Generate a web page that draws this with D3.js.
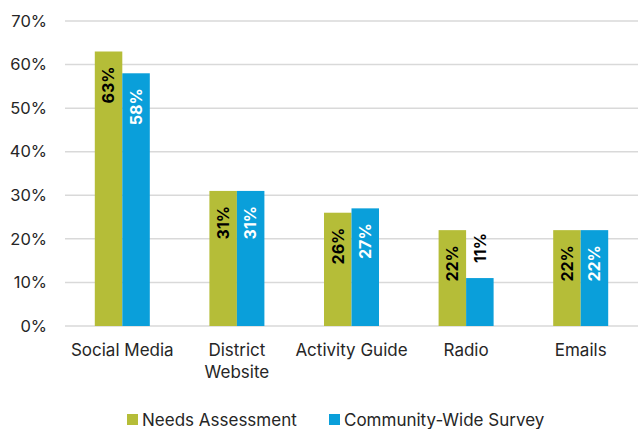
<!DOCTYPE html>
<html>
<head>
<meta charset="utf-8">
<script src="https://cdn.jsdelivr.net/npm/d3@7"></script>
<style>
  html, body { margin: 0; padding: 0; background: #fff; }
  svg { display: block; font-family: Inter, "Open Sans", sans-serif; }
</style>
</head>
<body>
<svg id="chart" width="640" height="429"></svg>
<script>
// Communication channels and share of respondents per survey
const categories = ["Social Media", "District\nWebsite", "Activity Guide", "Radio", "Emails"];
const seriesNames = ["Needs Assessment", "Community-Wide Survey"];
const needsAssessment = [63, 31, 26, 22, 22];
const communityWideSurvey = [58, 31, 27, 11, 22];
const yTicks = [0, 10, 20, 30, 40, 50, 60, 70];

const colors = ["#B5BD38", "#0A9FDA"];
const labelColors = ["#000000", "#FFFFFF"];

const svg = d3.select("#chart");
const margin = { left: 65, right: 2, top: 21, bottom: 103 };
const W = 640, H = 429;
const font = "Inter, \"Open Sans\", sans-serif";

const x0 = d3.scaleBand()
  .domain(d3.range(categories.length))
  .range([margin.left, W - margin.right])
  .paddingInner(0.52)
  .paddingOuter(0.26);

const x1 = d3.scaleBand()
  .domain(d3.range(seriesNames.length))
  .range([0, x0.bandwidth()]);

const y = d3.scaleLinear().domain([0, 70]).range([H - margin.bottom, margin.top]);

// gridlines
svg.append("g")
  .selectAll("line")
  .data(yTicks)
  .join("line")
  .attr("x1", margin.left)
  .attr("x2", W - margin.right)
  .attr("y1", d => y(d))
  .attr("y2", d => y(d))
  .attr("stroke", "#D9D9D9")
  .attr("stroke-width", 1.5);

// y axis labels
const yAxis = d3.axisLeft(y)
  .tickValues(yTicks)
  .tickFormat(d => d + "%")
  .tickSize(0)
  .tickPadding(18);
const yg = svg.append("g").attr("transform", `translate(${margin.left},0)`).call(yAxis);
yg.select(".domain").remove();
yg.selectAll("text").attr("font-size", 16.5).attr("fill", "#262626").attr("font-family", font);

const data = categories.map((c, i) => ({
  cat: i,
  values: [needsAssessment[i], communityWideSurvey[i]]
}));

const groups = svg.append("g")
  .selectAll("g")
  .data(data)
  .join("g")
  .attr("transform", d => `translate(${x0(d.cat)},0)`);

groups.selectAll("rect")
  .data(d => d.values.map((v, s) => ({ v, s })))
  .join("rect")
  .attr("x", d => x1(d.s))
  .attr("width", x1.bandwidth())
  .attr("y", d => y(d.v))
  .attr("height", d => y(0) - y(d.v))
  .attr("fill", d => colors[d.s]);

// value labels, rotated; placed inside the bar top unless the bar is too short
groups.selectAll("text.val")
  .data(d => d.values.map((v, s) => ({ v, s })))
  .join("text")
  .attr("class", "val")
  .each(function(d) {
    const cx = x1(d.s) + x1.bandwidth() / 2;
    const inside = (y(0) - y(d.v)) > 60;
    const t = d3.select(this);
    if (inside) {
      t.attr("transform", `translate(${cx},${y(d.v) + 15}) rotate(-90)`)
        .attr("text-anchor", "end")
        .attr("fill", labelColors[d.s]);
    } else {
      t.attr("transform", `translate(${cx},${y(d.v) - 15}) rotate(-90)`)
        .attr("text-anchor", "start")
        .attr("fill", "#000");
    }
  })
  .attr("dy", "0.36em")
  .attr("font-size", 16)
  .attr("font-weight", "bold")
  .text(d => d.v + "%");

// category labels
const xg = svg.append("g");
categories.forEach((c, i) => {
  const t = xg.append("text")
    .attr("x", x0(i) + x0.bandwidth() / 2)
    .attr("y", 356)
    .attr("text-anchor", "middle")
    .attr("font-size", 17)
    .attr("fill", "#262626");
  c.split("\n").forEach((line, k) => {
    t.append("tspan")
      .attr("x", x0(i) + x0.bandwidth() / 2)
      .attr("dy", k === 0 ? 0 : 22)
      .text(line);
  });
});

// legend
const legendItems = [{ x: 127 }, { x: 329 }];
const lg = svg.append("g");
seriesNames.forEach((name, s) => {
  const g = lg.append("g").attr("transform", `translate(${legendItems[s].x},414)`);
  g.append("rect").attr("width", 11).attr("height", 11).attr("fill", colors[s]);
  g.append("text")
    .attr("x", 15)
    .attr("y", 11.5)
    .attr("font-size", 17)
    .attr("fill", "#262626")
    .text(name);
});
</script>
</body>
</html>
